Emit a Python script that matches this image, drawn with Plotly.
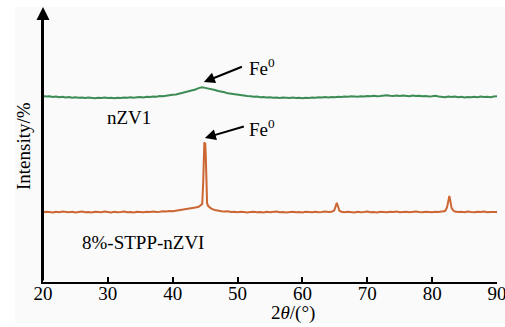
import numpy as np
import plotly.graph_objects as go

# nZVI (green) - 0.5 degree grid from 20 to 90
green_y = [71.0,70.8,70.9,70.6,70.8,70.5,70.7,70.4,70.6,70.3,70.5,70.3,70.4,70.2,70.4,70.3,70.1,70.3,70.2,70.4,
           70.2,70.3,70.1,70.3,70.2,70.4,70.3,70.5,70.3,70.5,70.6,70.4,70.7,70.6,70.8,70.7,71.0,70.9,71.2,71.3,
           71.5,71.6,71.9,72.0,72.4,72.7,73.1,73.5,74.0,74.3,74.1,73.9,73.6,73.3,72.9,72.7,72.4,72.0,71.8,71.6,
           71.4,71.3,71.1,71.0,70.9,70.7,70.8,70.5,70.6,70.4,70.5,70.3,70.4,70.2,70.4,70.3,70.2,70.4,70.2,70.3,
           70.1,70.3,70.2,70.4,70.3,70.5,70.4,70.6,70.4,70.6,70.5,70.7,70.6,70.8,70.7,70.9,70.8,70.7,70.9,70.8,
           71.0,70.9,71.1,70.9,71.0,71.1,71.3,71.1,71.0,71.2,71.0,71.2,71.1,70.9,71.2,71.0,71.1,70.9,71.0,70.8,
           70.9,71.1,70.8,70.6,70.5,70.8,70.6,70.8,70.5,70.7,70.4,70.6,70.5,70.7,70.5,70.8,70.6,70.7,70.5,70.8,
           70.9]
green_x = list(np.arange(20, 90.01, 0.5))[:len(green_y)]

# 8%-STPP-nZVI (orange)
orange_x = [20,20.5,21,21.5,22,22.5,23,23.5,24,24.5,25,25.5,26,26.5,27,27.5,28,28.5,29,29.5,
            30,30.5,31,31.5,32,32.5,33,33.5,34,34.5,35,35.5,36,36.5,37,37.5,38,38.5,39,39.5,
            40,40.5,41,41.5,42,42.5,43,43.5,44,44.3,44.55,44.7,44.8,44.88,44.95,45.02,45.1,45.2,45.3,45.5,
            45.8,46,46.5,47,47.5,48,48.5,49,49.5,50,50.5,51,51.5,52,52.5,53,53.5,54,54.5,55,
            55.5,56,56.5,57,57.5,58,58.5,59,59.5,60,60.5,61,61.5,62,62.5,63,63.5,64,64.5,64.9,
            65.1,65.3,65.5,65.7,66,66.5,67,67.5,68,68.5,69,69.5,70,70.5,71,71.5,72,72.5,73,73.5,
            74,74.5,75,75.5,76,76.5,77,77.5,78,78.5,79,79.5,80,80.5,81,81.5,82,82.3,82.5,82.65,
            82.8,83.0,83.3,83.5,84,84.5,85,85.5,86,86.5,87,87.5,88,88.5,89,89.5,90]
orange_y = [26.6,26.8,26.7,26.5,26.8,26.6,26.9,26.7,26.6,26.8,26.5,26.7,26.9,26.6,26.7,26.5,26.8,26.7,26.6,26.9,
            26.7,26.5,26.8,26.6,26.7,26.9,26.6,26.7,26.5,26.8,26.7,26.6,26.8,26.7,26.9,26.7,26.8,27.0,26.9,27.1,
            27.0,27.2,27.3,27.5,27.6,27.9,28.1,28.4,28.7,29.2,29.8,38.0,50.0,53.4,52.0,53.0,48.0,36.0,30.0,28.9,
            28.3,27.9,27.5,27.2,27.0,26.9,27.0,26.7,26.8,26.6,26.8,26.7,26.5,26.7,26.8,26.6,26.7,26.5,26.8,26.6,
            26.7,26.9,26.6,26.7,26.5,26.6,26.8,26.6,26.7,26.5,26.8,26.7,26.6,26.8,26.6,26.7,26.9,26.7,26.8,27.3,
            28.9,30.2,28.7,27.2,26.8,26.6,26.8,26.7,26.5,26.8,26.6,26.7,26.9,26.6,26.7,26.5,26.8,26.7,26.6,26.8,
            26.7,26.9,26.6,26.7,26.8,26.6,26.7,26.9,26.7,26.6,26.8,26.7,26.6,26.8,26.7,26.9,27.1,28.5,32.0,32.8,
            31.0,28.2,27.2,26.9,26.7,26.8,26.6,26.9,26.7,26.6,26.8,26.7,26.9,26.6,26.7,26.8,26.7]

x_ticks = [20, 30, 40, 50, 60, 70, 80, 90]

FONT = "Liberation Serif"
GREEN = "#3d8c55"
ORANGE = "#cc6633"

fig = go.Figure()
fig.add_trace(go.Scatter(x=green_x, y=green_y, mode="lines",
                         line=dict(color=GREEN, width=2), showlegend=False))
fig.add_trace(go.Scatter(x=orange_x, y=orange_y, mode="lines",
                         line=dict(color=ORANGE, width=2), showlegend=False))

txt = dict(family=FONT, size=19, color="black")
ann = []
ann.append(dict(x=33.25, y=62.6, xref="x", yref="y", text="nZV1", showarrow=False,
                xanchor="center", yanchor="middle", font=txt))
ann.append(dict(x=35.4, y=14.9, xref="x", yref="y", text="8%-STPP-nZVI", showarrow=False,
                xanchor="center", yanchor="middle", font=txt))
ann.append(dict(x=51.4, y=82.1, xref="x", yref="y", text="Fe<sup>0</sup>", showarrow=False,
                xanchor="left", yanchor="middle", font=txt))
ann.append(dict(x=51.4, y=58.8, xref="x", yref="y", text="Fe<sup>0</sup>", showarrow=False,
                xanchor="left", yanchor="middle", font=txt))
ann.append(dict(x=44.8, y=76.3, ax=50.9, ay=82.4, xref="x", yref="y", axref="x", ayref="y",
                text="", showarrow=True, arrowhead=2, arrowsize=1.1, arrowwidth=2, arrowcolor="black",
                standoff=0, startstandoff=0))
ann.append(dict(x=44.96, y=55.0, ax=51.2, ay=59.5, xref="x", yref="y", axref="x", ayref="y",
                text="", showarrow=True, arrowhead=2, arrowsize=1.1, arrowwidth=2, arrowcolor="black",
                standoff=0, startstandoff=0))
ann.append(dict(x=0, y=(282 - 7) / 262, xref="paper", yref="paper", ax=0, ay=275,
                text="", showarrow=True, arrowhead=2, arrowsize=1.3, arrowwidth=2, arrowcolor="black",
                standoff=0, startstandoff=0))
ann.append(dict(x=(23 - 43) / 454, y=(282 - 146) / 262, xref="paper", yref="paper",
                text="Intensity/%", textangle=-90, showarrow=False,
                xanchor="center", yanchor="middle", font=txt))
ann.append(dict(x=(293 - 43) / 454, y=(282 - 313) / 262, xref="paper", yref="paper",
                text="2<i>θ</i>/(°)", showarrow=False,
                xanchor="center", yanchor="middle", font=txt))

shapes = [
    dict(type="rect", xref="paper", yref="paper", x0=-0.2, x1=(15 - 43) / 454, y0=-0.3, y1=1.2,
         fillcolor="white", line=dict(width=0), layer="below"),
    dict(type="rect", xref="paper", yref="paper", x0=-0.2, x1=1.2, y0=(282 - 7) / 262, y1=1.2,
         fillcolor="white", line=dict(width=0), layer="below"),
    dict(type="rect", xref="paper", yref="paper", x0=-0.2, x1=1.2, y0=-0.3, y1=(282 - 323) / 262,
         fillcolor="white", line=dict(width=0), layer="below"),
]

fig.update_layout(
    width=505, height=327,
    margin=dict(l=43, r=8, t=20, b=45, autoexpand=False),
    paper_bgcolor="#fafafa", plot_bgcolor="#fafafa",
    annotations=ann, shapes=shapes,
    xaxis=dict(range=[20, 90], tickvals=x_ticks, ticktext=[str(t) for t in x_ticks],
               automargin=False,
               showgrid=False, zeroline=False, showline=True, linecolor="black", linewidth=2,
               ticks="inside", ticklen=5, tickwidth=1.5, tickcolor="black",
               ticklabelstandoff=-7, ticklabeloverflow="allow",
               tickfont=dict(family=FONT, size=19, color="black")),
    yaxis=dict(range=[0, 100], showgrid=False, zeroline=False, showline=True, automargin=False,
               linecolor="black", linewidth=2, showticklabels=False, ticks=""),
)

fig.write_html("out.html")
